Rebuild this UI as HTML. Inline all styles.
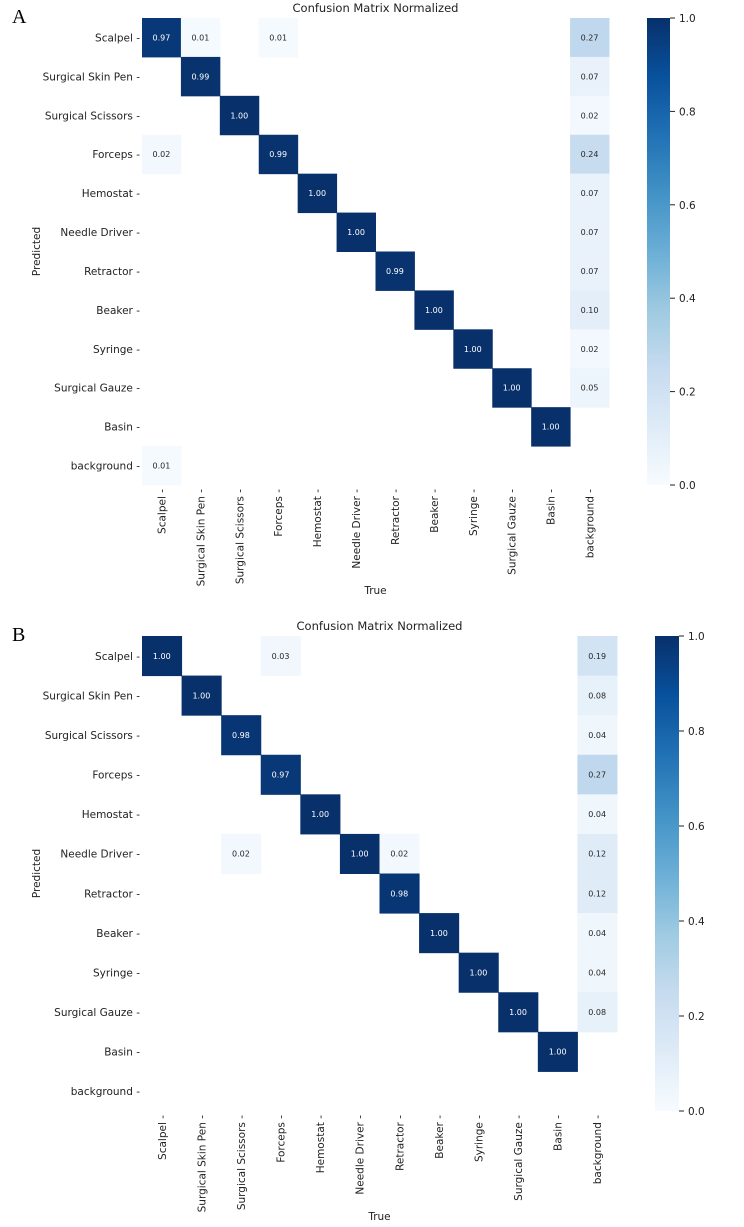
<!DOCTYPE html>
<html><head><meta charset="utf-8"><style>
body{margin:0;background:#fff;}
svg{display:block;font-family:"DejaVu Sans","Liberation Sans",sans-serif;}
</style></head><body>
<svg id="c" width="744" height="1227"></svg>
<script>
const classes=["Scalpel","Surgical Skin Pen","Surgical Scissors","Forceps","Hemostat","Needle Driver","Retractor","Beaker","Syringe","Surgical Gauze","Basin","background"];
const matA=[
[0.97,0.01,0,0.01,0,0,0,0,0,0,0,0.27],
[0,0.99,0,0,0,0,0,0,0,0,0,0.07],
[0,0,1.00,0,0,0,0,0,0,0,0,0.02],
[0.02,0,0,0.99,0,0,0,0,0,0,0,0.24],
[0,0,0,0,1.00,0,0,0,0,0,0,0.07],
[0,0,0,0,0,1.00,0,0,0,0,0,0.07],
[0,0,0,0,0,0,0.99,0,0,0,0,0.07],
[0,0,0,0,0,0,0,1.00,0,0,0,0.10],
[0,0,0,0,0,0,0,0,1.00,0,0,0.02],
[0,0,0,0,0,0,0,0,0,1.00,0,0.05],
[0,0,0,0,0,0,0,0,0,0,1.00,0],
[0.01,0,0,0,0,0,0,0,0,0,0,0]];
const matB=[
[1.00,0,0,0.03,0,0,0,0,0,0,0,0.19],
[0,1.00,0,0,0,0,0,0,0,0,0,0.08],
[0,0,0.98,0,0,0,0,0,0,0,0,0.04],
[0,0,0,0.97,0,0,0,0,0,0,0,0.27],
[0,0,0,0,1.00,0,0,0,0,0,0,0.04],
[0,0,0.02,0,0,1.00,0.02,0,0,0,0,0.12],
[0,0,0,0,0,0,0.98,0,0,0,0,0.12],
[0,0,0,0,0,0,0,1.00,0,0,0,0.04],
[0,0,0,0,0,0,0,0,1.00,0,0,0.04],
[0,0,0,0,0,0,0,0,0,1.00,0,0.08],
[0,0,0,0,0,0,0,0,0,0,1.00,0],
[0,0,0,0,0,0,0,0,0,0,0,0]];
const cbTicks=[0,0.2,0.4,0.6,0.8,1.0];
const blues=["#f7fbff","#deebf7","#c6dbef","#9ecae1","#6baed6","#4292c6","#2171b5","#08519c","#08306b"];
function hex(h){return [1,3,5].map(i=>parseInt(h.substr(i,2),16));}
function cmap(v){const t=Math.max(0,Math.min(1,v))*8;const i=Math.min(7,Math.floor(t));const f=t-i;const a=hex(blues[i]),b=hex(blues[i+1]);return "rgb("+a.map((x,k)=>Math.round(x+(b[k]-x)*f)).join(",")+")";}
const NS="http://www.w3.org/2000/svg";const svg=document.getElementById("c");
function el(tag,attrs,parent,txt){const e=document.createElementNS(NS,tag);for(const k in attrs)e.setAttribute(k,attrs[k]);if(txt!==undefined)e.textContent=txt;(parent||svg).appendChild(e);return e;}
let gid=0;
function panel(letter,mat,P){
  const g=el("g",{});
  
  
  const n=classes.length;const cw=(P.right-P.left)/n,ch=(P.bottom-P.top)/n;
  const xs=i=>P.left+i*cw, ys=j=>P.top+j*ch;
  const lt=el("text",{x:12,y:P.top+5,"font-family":"Liberation Serif,serif","font-size":20},g,letter);
  
  const tt=el("text",{x:(P.left+P.right)/2,y:P.top-6,"text-anchor":"middle","font-size":11.5,fill:"#222"},g,"Confusion Matrix Normalized");
  
  for(let r=0;r<n;r++)for(let c=0;c<n;c++){const v=mat[r][c];if(!v)continue;
    const rc=el("rect",{x:xs(c),y:ys(r),width:cw+0.5,height:ch+0.5,fill:cmap(v)},g);
    
    const t=el("text",{x:xs(c)+cw/2,y:ys(r)+ch/2+3,"text-anchor":"middle","font-size":8,fill:v>0.6?"#fff":"#262626"},g,v.toFixed(2));
    }
  for(let j=0;j<n;j++){const y=ys(j)+ch/2;
    const t=el("text",{x:P.left-2,y:y+4,"text-anchor":"end","font-size":10.5,fill:"#222"},g,classes[j]+" -");
    }
  for(let i=0;i<n;i++){const x=xs(i)+cw/2;
    const t=el("text",{x:0,y:0,"text-anchor":"end","font-size":10.5,fill:"#222",transform:`translate(${x+4},${P.bottom+4}) rotate(-90)`},g,classes[i]+" -");
    }
  const xl=el("text",{x:(P.left+P.right)/2,y:P.xlab,"text-anchor":"middle","font-size":10.5,fill:"#222"},g,"True");
  
  const yl=el("text",{x:0,y:0,"text-anchor":"middle","font-size":10.5,fill:"#222",transform:`translate(40,${(P.top+P.bottom)/2}) rotate(-90)`},g,"Predicted");
  
  const id="gr"+(gid++);const defs=el("defs",{},g);const lg=el("linearGradient",{id:id,x1:0,y1:1,x2:0,y2:0},defs);
  blues.forEach((b,i)=>el("stop",{offset:i/8,"stop-color":b},lg));
  const cb=el("rect",{x:P.cbx,y:P.top,width:P.cbw,height:P.bottom-P.top,fill:`url(#${id})`},g);
  
  cbTicks.forEach(v=>{const y=P.bottom-v*(P.bottom-P.top);
    el("line",{x1:P.cbx+P.cbw,x2:P.cbx+P.cbw+5,y1:y,y2:y,stroke:"#222","stroke-width":1},g);
    const t=el("text",{x:P.cbx+P.cbw+9,y:y+4,"font-size":10.5,fill:"#222"},g,v.toFixed(1));
    });
}
panel("A",matA,{left:142,right:609,top:18,bottom:485,cbx:647,cbw:23,xlab:594});
panel("B",matB,{left:142,right:617,top:636,bottom:1111,cbx:655,cbw:24,xlab:1220});
</script>
</body></html>
